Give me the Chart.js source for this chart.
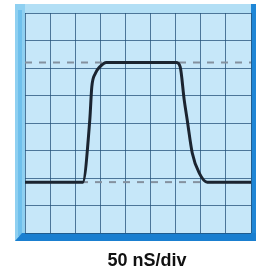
<!DOCTYPE html>
<html>
<head>
<meta charset="utf-8">
<script src="https://cdn.jsdelivr.net/npm/chart.js@4/dist/chart.umd.min.js"></script>
<style>
html,body{margin:0;padding:0;background:#ffffff;}
#wrap{width:256px;height:274px;}
</style>
</head>
<body>
<div id="wrap"><canvas id="c" width="256" height="274"></canvas></div>
<script>
// time in ns (50 ns per division), level in vertical divisions
const traceTime  = [0, 115, 129, 133, 140, 149, 162, 301, 309, 317, 323, 333, 347, 363, 450];
const traceLevel = [1.85, 1.85, 4.11, 5.31, 5.8, 6.04, 6.2, 6.2, 6.04, 4.84, 4.11, 2.91, 2.18, 1.85, 1.85];
const refLevels  = [6.2, 1.85];          // dashed reference levels
const timeRange  = [0, 450];             // 9 divisions
const levelRange = [0, 8];               // 8 divisions
const timeStep = 50, levelStep = 1;
const caption = "50 nS/div";

const trace = traceTime.map((t, i) => ({x: t, y: traceLevel[i]}));
const refSets = refLevels.map(v => ({
  data: [{x: timeRange[0], y: v}, {x: timeRange[1], y: v}],
  borderColor: '#84919f', borderWidth: 2, borderDash: [7, 7],
  pointRadius: 0, order: 2, fill: false
}));

const framePlugin = {
  id: 'frame',
  beforeDraw(chart) {
    const {ctx, chartArea: a} = chart;
    ctx.save();
    ctx.fillStyle = '#c6e7f9';
    ctx.fillRect(a.left, a.top, a.right - a.left, a.bottom - a.top);
    ctx.fillStyle = '#b3dff5';
    ctx.fillRect(15, 4, 241, a.top - 4);
    ctx.fillStyle = '#8fd0f1';
    ctx.fillRect(15, 4, a.left - 15, 237);
    ctx.fillStyle = '#6fc0ec';
    ctx.fillRect(18, 10, 4, 226);
    ctx.fillStyle = '#1f86d6';
    ctx.fillRect(a.right, 4, 256 - a.right, 237);
    ctx.fillStyle = '#1a7fd0';
    ctx.beginPath();
    ctx.moveTo(15, 241); ctx.lineTo(22, a.bottom); ctx.lineTo(256, a.bottom);
    ctx.lineTo(256, 241); ctx.closePath(); ctx.fill();
    ctx.restore();
  },
  afterDraw(chart) {
    const {ctx} = chart;
    ctx.save();
    ctx.fillStyle = '#111111';
    ctx.font = 'bold 18px "Liberation Sans", Arial, sans-serif';
    ctx.textAlign = 'center';
    ctx.textBaseline = 'middle';
    ctx.fillText(caption, 147, 261);
    ctx.restore();
  }
};

new Chart(document.getElementById('c'), {
  type: 'line',
  data: {
    datasets: [
      {
        data: trace, borderColor: '#1b2430', borderWidth: 3,
        pointRadius: 0, cubicInterpolationMode: 'monotone', order: 1, fill: false
      },
      ...refSets
    ]
  },
  options: {
    responsive: false, animation: false,
    layout: {padding: {left: 25, right: 5, top: 13, bottom: 41}},
    plugins: {legend: {display: false}, tooltip: {enabled: false}, title: {display: false}},
    scales: {
      x: {
        type: 'linear', min: timeRange[0], max: timeRange[1],
        ticks: {display: false, stepSize: timeStep},
        grid: {color: 'rgba(35,80,120,0.75)', lineWidth: 1, drawTicks: false},
        border: {display: false}
      },
      y: {
        type: 'linear', min: levelRange[0], max: levelRange[1],
        ticks: {display: false, stepSize: levelStep},
        grid: {color: 'rgba(35,80,120,0.75)', lineWidth: 1, drawTicks: false},
        border: {display: false}
      }
    }
  },
  plugins: [framePlugin]
});
</script>
</body>
</html>
